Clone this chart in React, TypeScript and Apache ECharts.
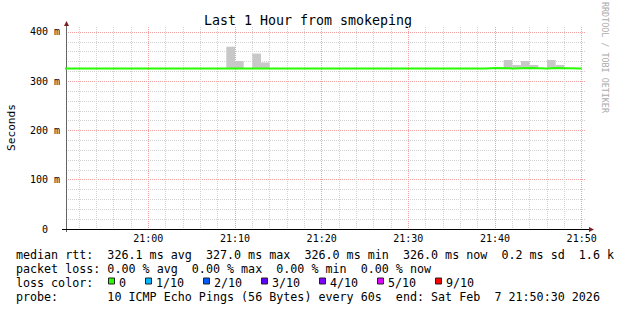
import React, { useEffect, useRef } from 'react';
import * as echarts from 'echarts';

const FONT = 'DejaVu Sans Mono';

const titleText = 'Last 1 Hour from smokeping';
const yAxisTitle = 'Seconds';
const watermarkText = 'RRDTOOL / TOBI OETIKER';

// x values: minutes relative to 21:00 (window 20:50:30 .. 21:50:30)
const xStart = -9.5;
const xEnd = 50.5;
const xMajorTicks = [0, 10, 20, 30, 40, 50];
const xTickLabels = ['21:00', '21:10', '21:20', '21:30', '21:40', '21:50'];
const xMinorTicks = [-8, -6, -4, -2, 2, 4, 6, 8, 12, 14, 16, 18, 22, 24, 26, 28, 32, 34, 36, 38, 42, 44, 46, 48];

// y values: milliseconds
const yMax = 410;
const yMajorTicks = [0, 100, 200, 300, 400];
const yTickLabels = ['0\u00a0\u00a0', '100 m', '200 m', '300 m', '400 m'];
const yMinorTicks = [20, 40, 60, 80, 120, 140, 160, 180, 220, 240, 260, 280, 320, 340, 360, 380];

// median rtt (ms), step changes (bin start minute, value)
const medianTimes = [-10, 39, 40, 42, 44, 46, 47, 50];
const medianValues = [326, 327, 326, 327, 326, 327, 326, 326];

// smoke (ping spread) per 1-minute bin
const smokeStep = 1;
const smokeStart = [9, 10, 12, 13, 41, 42, 43, 44, 46, 47];
const smokeLow = [326, 326, 326, 326, 326, 327, 327, 326, 327, 326];
const smokeHigh = [370, 341, 356, 338, 343, 333, 341, 333, 343, 333];

// legend texts
const legendRows = [
  'median rtt:  326.1 ms avg  327.0 ms max  326.0 ms min  326.0 ms now  0.2 ms sd  1.6 k',
  'packet loss: 0.00 % avg  0.00 % max  0.00 % min  0.00 % now',
  'loss color:',
  'probe:       10 ICMP Echo Pings (56 Bytes) every 60s  end: Sat Feb  7 21:50:30 2026',
];
const lossLabels = ['0', '1/10', '2/10', '3/10', '4/10', '5/10', '9/10'];
const lossColors = ['#26ff00', '#00b8ff', '#0059ff', '#5e00ff', '#7e00ff', '#dd00ff', '#ff0000'];

// legend layout
const legendX = 15.9;
const rowY = [254.5, 268.5, 282.5, 296.5];
const lossBoxX = [108, 145, 203, 261, 319, 377, 435];
const LEGEND_SIZE = 11.7;

const SMOKE_COLOR = '#c8c8c8';
const MEDIAN_COLOR = '#26ff00';
const MAJOR_GRID = '#f0a0a0';
const MINOR_GRID = '#d2d2d2';
const ARROW = '#7d1f1f';

const nb = (s: string) => s.replace(/ /g, '\u00a0');

function buildOption() {
  const graphics: any[] = [
    {
      type: 'text', x: 308, y: 20, silent: true,
      style: { text: titleText, fontFamily: FONT, fontSize: 13.3, fill: '#000', align: 'center', verticalAlign: 'middle' },
    },
    {
      type: 'text', x: 11, y: 127.5, rotation: Math.PI / 2, silent: true,
      style: { text: yAxisTitle, fontFamily: FONT, fontSize: 11.2, fill: '#000', align: 'center', verticalAlign: 'middle' },
    },
    {
      type: 'text', x: 605, y: 57.5, rotation: -Math.PI / 2, silent: true,
      style: { text: watermarkText, fontFamily: FONT, fontSize: 8.4, fill: '#ababab', align: 'center', verticalAlign: 'middle' },
    },
    // axis extensions
    { type: 'line', silent: true, shape: { x1: 62, y1: 229.5, x2: 66, y2: 229.5 }, style: { stroke: '#000', lineWidth: 1 } },
    { type: 'line', silent: true, shape: { x1: 586, y1: 229.5, x2: 590, y2: 229.5 }, style: { stroke: '#000', lineWidth: 1 } },
    { type: 'line', silent: true, shape: { x1: 66.5, y1: 24, x2: 66.5, y2: 27 }, style: { stroke: '#666', lineWidth: 1 } },
    { type: 'line', silent: true, shape: { x1: 66.5, y1: 229, x2: 66.5, y2: 232 }, style: { stroke: '#666', lineWidth: 1 } },
    // arrows
    { type: 'polygon', silent: true, shape: { points: [[64, 26], [69, 26], [66.5, 21]] }, style: { fill: ARROW } },
    { type: 'polygon', silent: true, shape: { points: [[589, 227], [589, 232], [594, 229.5]] }, style: { fill: ARROW } },
  ];
  legendRows.forEach((t, i) => {
    graphics.push({
      type: 'text', x: legendX, y: rowY[i], silent: true,
      style: { text: nb(t), fontFamily: FONT, fontSize: LEGEND_SIZE, fill: '#000', align: 'left', verticalAlign: 'middle' },
    });
  });
  lossLabels.forEach((lab, i) => {
    graphics.push({
      type: 'rect', silent: true,
      shape: { x: lossBoxX[i] + 0.5, y: rowY[2] - 4.5, width: 6, height: 6 },
      style: { fill: lossColors[i], stroke: '#222', lineWidth: 1 },
    });
    graphics.push({
      type: 'text', x: lossBoxX[i] + 11, y: rowY[2], silent: true,
      style: { text: lab, fontFamily: FONT, fontSize: LEGEND_SIZE, fill: '#000', align: 'left', verticalAlign: 'middle' },
    });
  });

  return {
    animation: false,
    backgroundColor: '#ffffff',
    grid: { left: 66, right: 31, top: 27, bottom: 81 },
    xAxis: [
      {
        type: 'value', min: xStart, max: xEnd, position: 'bottom',
        axisLine: { show: true, onZero: false, lineStyle: { color: '#000', width: 1 } },
        axisTick: { show: false, customValues: xMajorTicks },
        axisLabel: {
          customValues: xMajorTicks,
          formatter: (v: number) => xTickLabels[xMajorTicks.indexOf(v)] ?? '',
          fontFamily: FONT, fontSize: 10, color: '#000', margin: 4,
        },
        splitLine: { show: true, lineStyle: { color: MAJOR_GRID, width: 1, type: [1, 1] } },
      },
      {
        type: 'value', min: xStart, max: xEnd, position: 'bottom',
        axisLine: { show: false },
        axisTick: { show: false, customValues: xMinorTicks },
        axisLabel: { show: false, customValues: xMinorTicks },
        splitLine: { show: true, lineStyle: { color: MINOR_GRID, width: 1, type: [1, 1] } },
      },
    ],
    yAxis: [
      {
        type: 'value', min: 0, max: yMax, position: 'left',
        axisLine: { show: true, onZero: false, lineStyle: { color: '#666', width: 1 } },
        axisTick: { show: false, customValues: yMajorTicks },
        axisLabel: {
          customValues: yMajorTicks,
          formatter: (v: number) => yTickLabels[yMajorTicks.indexOf(v)] ?? '',
          fontFamily: FONT, fontSize: 10, color: '#000', margin: 6,
        },
        splitLine: { show: true, lineStyle: { color: MAJOR_GRID, width: 1, type: [1, 1] } },
      },
      {
        type: 'value', min: 0, max: yMax, position: 'left',
        axisLine: { show: false },
        axisTick: { show: false, customValues: yMinorTicks },
        axisLabel: { show: false, customValues: yMinorTicks },
        splitLine: { show: true, lineStyle: { color: MINOR_GRID, width: 1, type: [1, 1] } },
      },
    ],
    series: [
      {
        type: 'custom',
        name: 'smoke',
        xAxisIndex: 0,
        yAxisIndex: 0,
        clip: true,
        z: 2,
        silent: true,
        encode: { x: [0, 1], y: [2, 3] },
        data: smokeStart.map((s, i) => [s, s + smokeStep, smokeLow[i], smokeHigh[i]]),
        renderItem: (params: any, api: any) => {
          const p0 = api.coord([api.value(0), api.value(3)]);
          const p1 = api.coord([api.value(1), api.value(2)]);
          return {
            type: 'rect',
            shape: { x: p0[0], y: p0[1], width: p1[0] - p0[0], height: p1[1] - p0[1] },
            style: { fill: SMOKE_COLOR },
          };
        },
      },
      {
        type: 'line',
        name: 'median rtt',
        xAxisIndex: 0,
        yAxisIndex: 0,
        step: 'end',
        showSymbol: false,
        clip: true,
        z: 3,
        silent: true,
        lineStyle: { color: MEDIAN_COLOR, width: 2 },
        data: medianTimes.map((t, i) => [t, medianValues[i]]),
      },
    ],
    graphic: graphics,
  };
}

export default function App() {
  const ref = useRef<HTMLDivElement>(null);
  useEffect(() => {
    if (!ref.current) return;
    const chart = echarts.init(ref.current, undefined, { renderer: 'svg', width: 617, height: 310 });
    chart.setOption(buildOption() as any);
    return () => chart.dispose();
  }, []);
  return (
    <div
      ref={ref}
      style={{ position: 'absolute', left: 0, top: 0, width: 617, height: 310, background: '#fff' }}
    />
  );
}
